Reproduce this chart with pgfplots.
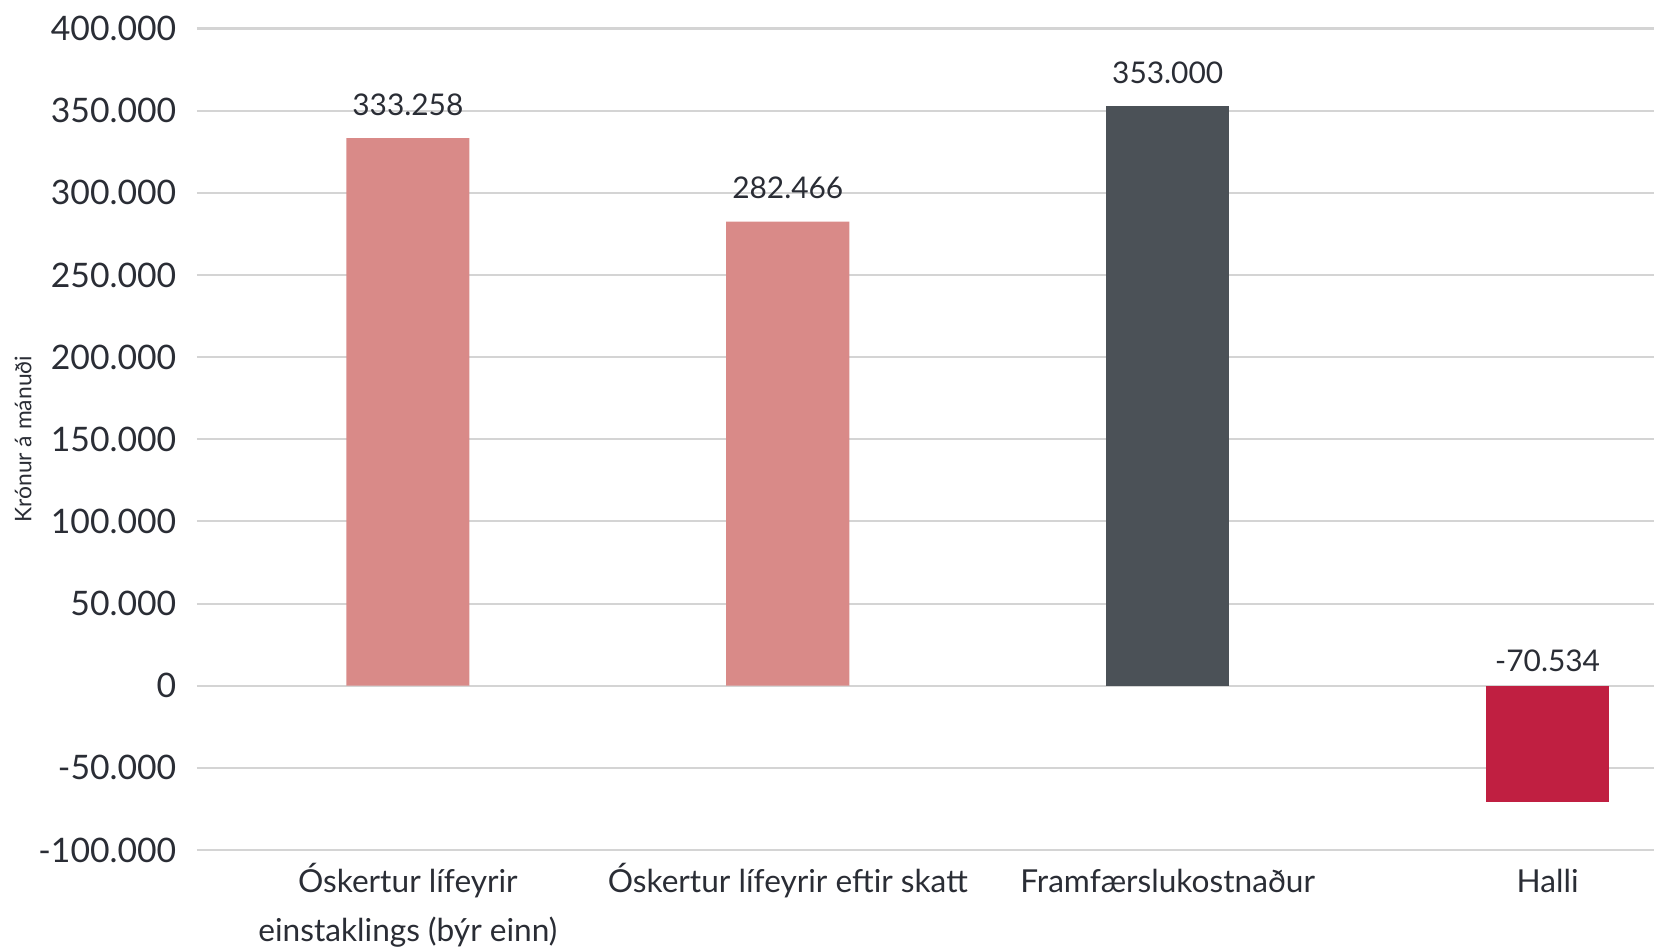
\documentclass[border=0pt]{standalone}
\usepackage{pgfplots}
\pgfplotsset{compat=1.18}
\usepackage{fontspec}
\setmainfont{Lato}

\definecolor{barpink}{HTML}{D98A88}
\definecolor{bardark}{HTML}{4B5157}
\definecolor{barred}{HTML}{C01F41}
\definecolor{gridgray}{HTML}{D4D4D4}
\definecolor{txt}{HTML}{2A2D35}

\newcommand{\lstrut}{\rule{0pt}{9pt}}

\begin{document}
\begin{tikzpicture}
\begin{axis}[
    scale only axis,
    width=14.57cm, height=8.215cm,
    xmin=-0.555, xmax=3.28,
    ymin=-100000, ymax=400000,
    scaled y ticks=false,
    ytick={-100000,-50000,0,50000,100000,150000,200000,250000,300000,350000,400000},
    yticklabels={-100.000,-50.000,0,50.000,100.000,150.000,200.000,250.000,300.000,350.000,400.000},
    xtick={0,1,2,3},
    xticklabels={{\lstrut Óskertur lífeyrir\\einstaklings (býr einn)},
                 {\lstrut Óskertur lífeyrir eftir skatt},
                 {\lstrut Framfærslukostnaður},
                 {\lstrut Halli}},
    axis line style={draw=none},
    major tick length=0pt,
    ymajorgrids,
    grid style={gridgray, line width=0.6pt},
    yticklabel style={font=\fontsize{9.6}{12}\selectfont, text=txt, inner sep=0pt, xshift=-0.2cm},
    xticklabel style={font=\fontsize{9}{14}\selectfont, text=txt, align=center, anchor=north, inner sep=0pt, yshift=-0.1cm},
    ylabel={Krónur á mánuði},
    ylabel style={at={(axis description cs:-0.1194,0.5)}, anchor=center, font=\fontsize{6.5}{8}\selectfont, text=txt},
    ybar, bar width=0.324, bar shift=0pt,
    clip=false,
]
\addplot[fill=barpink, draw=none] coordinates {(0,333258) (1,282466)};
\addplot[fill=bardark, draw=none] coordinates {(2,353000)};
\addplot[fill=barred, draw=none] coordinates {(3,-70534)};
% value labels
\addplot[draw=none, mark=none, sharp plot,
    nodes near coords, point meta=explicit symbolic,
    every node near coord/.style={anchor=south, yshift=0.1cm, text=txt, font=\fontsize{8.5}{10}\selectfont}]
    coordinates {(0,333258)[333.258] (1,282466)[282.466] (2,353000)[353.000]};
\addplot[draw=none, mark=none, sharp plot,
    nodes near coords, point meta=explicit symbolic,
    every node near coord/.style={anchor=south, yshift=0.02cm, text=txt, font=\fontsize{8.5}{10}\selectfont}]
    coordinates {(3,0)[-70.534]};
\end{axis}
\pgfresetboundingbox
\useasboundingbox (-1.97cm,-0.96cm) rectangle (14.57cm,8.50cm);
\end{tikzpicture}
\end{document}
